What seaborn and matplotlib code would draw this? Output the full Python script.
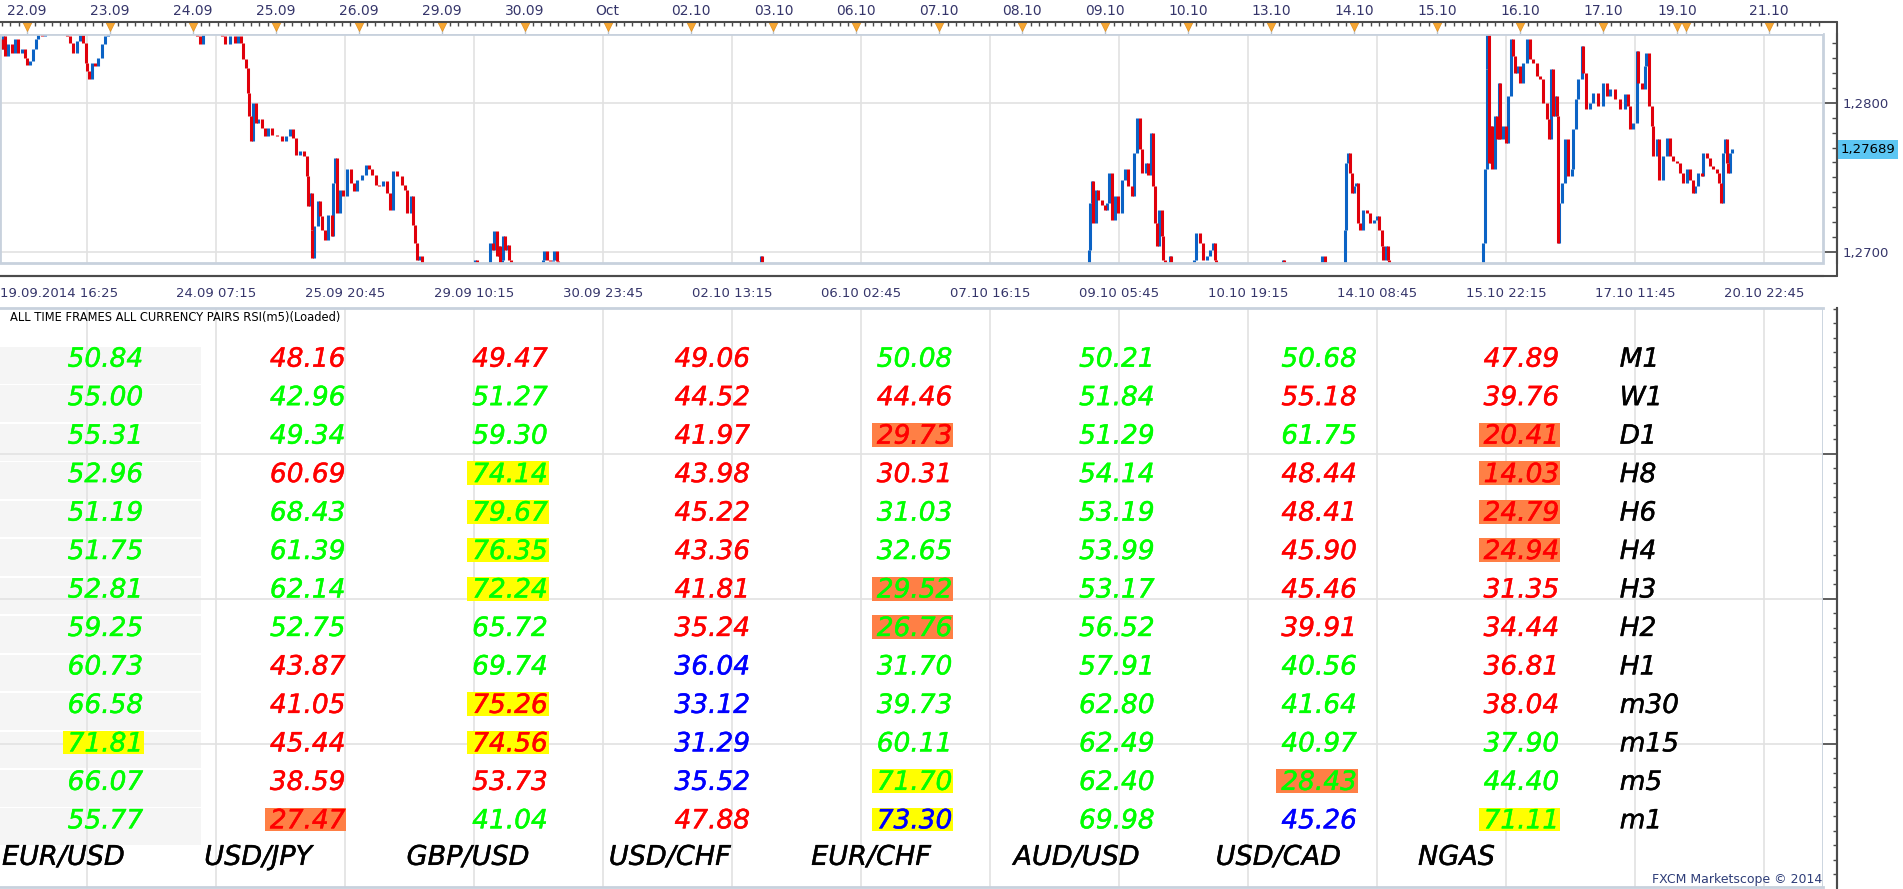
import numpy as np
import matplotlib
matplotlib.use("Agg")
import matplotlib.pyplot as plt
import matplotlib.transforms as mtransforms
import matplotlib.patheffects as pe
from matplotlib.patches import Rectangle
from matplotlib.lines import Line2D
from matplotlib.ticker import MultipleLocator, FixedLocator
import seaborn as sns

# ==========================================================
# Price data (EUR/USD, trading hours from 22.09 00:00)
# 1.2850 = above the visible range, 1.2685 = below it
# ==========================================================

price_hours = [
    -7.8, -7.3, -6.9, -6.4, -5.4, -4.4, -3.5, -2.5, -1.5, -0.6, 0.1, 0.9, 1.8, 2.5, 3.3, 4.3, 5.2,
    11.5, 12.4, 13.4, 14.4, 15.3, 16.3, 17.1, 17.4, 18.0, 18.7, 19.7, 20.6, 21.6, 22.6, 23.5,
    49.1, 50.1, 51.0, 56.3, 57.3, 58.7, 60.2, 61.1, 61.8, 62.6, 63.4, 63.9, 64.3, 64.7, 65.5,
    66.2, 66.9, 67.9, 68.9, 69.8, 70.8, 72.3, 73.7, 74.9, 76.1, 77.1, 77.8, 79.0, 80.2, 80.9,
    81.4, 81.9, 82.4, 82.6, 83.1, 84.1, 84.8, 85.4, 86.2, 87.2, 88.2, 88.6, 89.1, 89.8, 90.6,
    91.5, 92.7, 93.7, 94.6, 95.6, 96.8, 98.0, 99.0, 99.9, 100.9, 101.9, 103.1, 104.3, 105.0,
    106.0, 107.1, 108.4, 109.4, 110.0, 111.0, 111.8, 112.3, 112.8, 113.5, 114.2,
    129.6, 130.1, 133.5, 134.0, 134.8, 135.2, 135.9, 136.6, 136.9, 137.4, 137.8, 138.3, 139.0,
    139.6, 140.0, 149.2, 149.7, 150.4, 151.3, 152.3, 152.6, 153.3, 153.7, 212.3, 212.7,
    307.1, 307.4, 307.7, 308.1, 308.5, 309.2, 310.0, 311.0, 311.9, 312.6, 313.2, 313.9, 314.8,
    315.8, 316.8, 317.7, 318.7, 319.6, 320.3, 321.3, 322.0, 322.7, 323.7, 324.4, 325.1, 325.7,
    326.4, 326.9, 327.6, 328.3, 328.8, 329.3, 330.7, 331.0, 337.8, 338.4, 339.4, 340.4, 341.3,
    342.3, 343.1, 343.8, 344.0, 363.5, 363.7, 374.8, 375.6,
    380.9, 381.3, 381.7, 382.1, 382.8, 383.3, 384.0, 384.6, 385.0, 385.7, 386.7, 387.6, 388.6,
    389.8, 390.5, 391.2, 392.0, 392.4, 393.2, 393.7, 394.0,
    421.2, 421.4, 421.9, 422.4, 422.6, 423.0, 423.5, 424.0, 424.8, 425.4, 425.8, 426.2, 427.2,
    428.0, 428.6, 429.3, 430.1, 430.6, 431.2, 432.0, 433.0, 434.0, 434.9, 435.9, 436.8, 437.8,
    438.7, 439.7, 440.4, 440.9, 441.5, 442.1, 442.6, 443.0, 443.4, 444.1, 445.0, 446.0, 447.0,
    447.4, 448.1, 448.9, 449.9, 450.3, 451.1, 452.3, 453.2, 454.7, 456.1, 457.1, 458.1, 459.5,
    461.0, 462.4, 463.3, 463.8, 464.8, 465.8, 466.2, 467.2, 468.2, 468.6, 469.4, 470.1, 470.6,
    471.6, 472.3, 473.5, 474.5, 475.4, 476.4, 477.3, 478.3, 479.2, 480.2, 481.2, 482.0, 482.6,
    483.6, 484.6, 485.0, 486.0, 487.0, 487.9, 488.9, 489.7, 490.1, 490.8, 491.3, 491.8, 492.3,
    492.8, 493.3,
]

price_close = [
    1.28425, 1.28358, 1.28447, 1.28313, 1.28391, 1.28336, 1.28425, 1.28336, 1.28358, 1.28302,
    1.28251, 1.28280, 1.28358, 1.28425, 1.28459, 1.28447, 1.2850,
    1.28447, 1.28403, 1.28336, 1.28414, 1.28459, 1.28403, 1.28268, 1.28213, 1.28157, 1.28268,
    1.28246, 1.28302, 1.28391, 1.28447, 1.2850,
    1.28447, 1.28391, 1.2850, 1.28447, 1.28391, 1.28447, 1.28403, 1.28447, 1.28403, 1.28291,
    1.28235, 1.28067, 1.27911, 1.27743, 1.28000,
    1.27866, 1.27888, 1.27832, 1.27776, 1.27832, 1.27787, 1.27776, 1.27743, 1.27776, 1.27821,
    1.27765, 1.27653, 1.27676, 1.27642, 1.27508,
    1.27306, 1.27396, 1.27150, 1.26960, 1.27172, 1.27340, 1.27239, 1.27150, 1.27083, 1.27251,
    1.27105, 1.27463, 1.27631, 1.27262, 1.27418,
    1.27374, 1.27553, 1.27463, 1.27407, 1.27485, 1.27519, 1.27586, 1.27553, 1.27519, 1.27452,
    1.27441, 1.27474, 1.27396, 1.27284,
    1.27541, 1.27508, 1.27452, 1.27418, 1.27262, 1.27374, 1.27183, 1.27060, 1.26949, 1.26971,
    1.2685,
    1.26949, 1.2685, 1.2685, 1.27060, 1.27016, 1.27139, 1.26971, 1.27038, 1.2685, 1.26949,
    1.27105, 1.27016, 1.27049,
    1.26949, 1.2685, 1.26949, 1.27005, 1.26949, 1.26938, 1.26949, 1.27005, 1.26938, 1.2685,
    1.26971, 1.2685,
    1.2685, 1.27016, 1.27329, 1.27474, 1.27195, 1.27418, 1.27351, 1.27318, 1.27284, 1.27329,
    1.27530, 1.27217, 1.27374,
    1.27262, 1.27485, 1.27553, 1.27441, 1.27374, 1.27664, 1.27899, 1.27687, 1.27530, 1.27597,
    1.27519, 1.27799, 1.27441,
    1.27195, 1.27038, 1.27284, 1.27105, 1.26949, 1.2685, 1.26971, 1.2685, 1.26949, 1.27128,
    1.27060, 1.26949, 1.26971,
    1.27016, 1.27060, 1.26949, 1.2685, 1.26949, 1.2685, 1.26971, 1.2685,
    1.2685, 1.27150, 1.27597, 1.27664, 1.27530, 1.27396, 1.27441, 1.27463, 1.27195, 1.27150,
    1.27284, 1.27262, 1.27195,
    1.27217, 1.27239, 1.27150, 1.27038, 1.26949, 1.27038, 1.26949, 1.2685,
    1.2685, 1.27060, 1.27553, 1.28224, 1.28459, 1.27597, 1.27843, 1.27553, 1.27911, 1.27754,
    1.28134, 1.27754, 1.27843,
    1.27732, 1.28045, 1.28425, 1.28313, 1.28201, 1.28246, 1.28134, 1.28268, 1.28425, 1.28291,
    1.28268, 1.28179, 1.28157,
    1.28000, 1.27888, 1.27754, 1.28224, 1.27911, 1.28045, 1.27911, 1.27060, 1.27329, 1.27463,
    1.27754, 1.27508, 1.27553,
    1.27821, 1.28022, 1.28157, 1.28380, 1.28201, 1.27955, 1.28000, 1.28067, 1.27978, 1.28134,
    1.28045, 1.28089, 1.28022,
    1.27955, 1.28056, 1.27978, 1.27821, 1.27866, 1.28347, 1.28134, 1.28089, 1.28246, 1.28336,
    1.27978, 1.27843, 1.27642,
    1.27754, 1.27485, 1.27642, 1.27765, 1.27642, 1.27609, 1.27597, 1.27530, 1.27463, 1.27553,
    1.27485, 1.27396, 1.27441,
    1.27530, 1.27508, 1.27664, 1.27631, 1.27575, 1.27553, 1.27530, 1.27463, 1.27329, 1.27664,
    1.27754, 1.27597, 1.27530,
    1.27664, 1.27689,
]

last_price = 1.27689

# ==========================================================
# Axis labels
# ==========================================================

top_labels = ["22.09", "23.09", "24.09", "25.09", "26.09", "29.09", "30.09", "Oct", "02.10",
              "03.10", "06.10", "07.10", "08.10", "09.10", "10.10", "13.10", "14.10", "15.10",
              "16.10", "17.10", "19.10", "", "21.10"]
top_hours = [0, 24, 48, 72, 96, 120, 144, 168, 192, 216, 240, 264, 288, 312, 336, 360, 384,
             408, 432, 456, 477.4, 480, 504]

bottom_labels = ["19.09.2014 16:25", "24.09 07:15", "25.09 20:45", "29.09 10:15",
                 "30.09 23:45", "02.10 13:15", "06.10 02:45", "07.10 16:15", "09.10 05:45",
                 "10.10 19:15", "14.10 08:45", "15.10 22:15", "17.10 11:45", "20.10 22:45"]
bottom_hours = [17.4, 54.7, 92.0, 129.4, 166.7, 204.0, 241.4, 278.7, 316.0, 353.3, 390.7,
                428.0, 465.3, 502.7]

price_ticks = [1.27, 1.28]
price_tick_labels = ["1,2700", "1,2800"]

# ==========================================================
# RSI table
# ==========================================================

pairs = ["EUR/USD", "USD/JPY", "GBP/USD", "USD/CHF", "EUR/CHF", "AUD/USD", "USD/CAD", "NGAS"]
frames = ["M1", "W1", "D1", "H8", "H6", "H4", "H3", "H2", "H1", "m30", "m15", "m5", "m1"]

rsi_eurusd = [50.84, 55.00, 55.31, 52.96, 51.19, 51.75, 52.81, 59.25, 60.73, 66.58, 71.81, 66.07, 55.77]
rsi_usdjpy = [48.16, 42.96, 49.34, 60.69, 68.43, 61.39, 62.14, 52.75, 43.87, 41.05, 45.44, 38.59, 27.47]
rsi_gbpusd = [49.47, 51.27, 59.30, 74.14, 79.67, 76.35, 72.24, 65.72, 69.74, 75.26, 74.56, 53.73, 41.04]
rsi_usdchf = [49.06, 44.52, 41.97, 43.98, 45.22, 43.36, 41.81, 35.24, 36.04, 33.12, 31.29, 35.52, 47.88]
rsi_eurchf = [50.08, 44.46, 29.73, 30.31, 31.03, 32.65, 29.52, 26.76, 31.70, 39.73, 60.11, 71.70, 73.30]
rsi_audusd = [50.21, 51.84, 51.29, 54.14, 53.19, 53.99, 53.17, 56.52, 57.91, 62.80, 62.49, 62.40, 69.98]
rsi_usdcad = [50.68, 55.18, 61.75, 48.44, 48.41, 45.90, 45.46, 39.91, 40.56, 41.64, 40.97, 28.43, 45.26]
rsi_ngas = [47.89, 39.76, 20.41, 14.03, 24.79, 24.94, 31.35, 34.44, 36.81, 38.04, 37.90, 44.40, 71.11]

# text colour per cell: g = green, r = red, b = blue
col_eurusd = "ggggggggggggg"
col_usdjpy = "rggrggggrrrrr"
col_gbpusd = "rggggggggrrrg"
col_usdchf = "rrrrrrrrbbbbr"
col_eurchf = "grrrggggggggb"
col_audusd = "ggggggggggggg"
col_usdcad = "grgrrrrrggggb"
col_ngas = "rrrrrrrrrrggg"

rsi_values = [rsi_eurusd, rsi_usdjpy, rsi_gbpusd, rsi_usdchf,
              rsi_eurchf, rsi_audusd, rsi_usdcad, rsi_ngas]
rsi_colors = [col_eurusd, col_usdjpy, col_gbpusd, col_usdchf,
              col_eurchf, col_audusd, col_usdcad, col_ngas]

overbought = 70
oversold = 30

# ==========================================================
# Style
# ==========================================================

sns.set_theme(style="white")
plt.rcParams["font.family"] = ["DejaVu Sans"]

W, H = 1903, 889
PT = 0.72          # points per pixel at dpi 100
DARK = "#4b4b4b"
BORDER = "#c8d1dd"
GRID = "#e2e2e2"
LABEL = "#35356a"
text_color = {"g": "#00ff00", "r": "#ff0000", "b": "#0000ff"}

x_left, x_right = -7.81, 519.68

fig = plt.figure(figsize=(W / 100, H / 100), dpi=100)
fig.patch.set_facecolor("white")


def rect(x0, y0, x1, y1):
    return [x0 / W, 1 - y1 / H, (x1 - x0) / W, (y1 - y0) / H]


# ==========================================================
# Price panel
# ==========================================================

ax_p = fig.add_axes(rect(0, 34, 1823, 263))
ax_p.set_xlim(x_left, x_right)
ax_p.set_ylim(1.26926, 1.28461)
ax_p.set_facecolor("white")

hours = np.array(price_hours)
close = np.array(price_close)
prev = close[:-1]
cur = close[1:]
up = cur >= prev
ax_p.vlines(hours[1:][up], prev[up], cur[up], color="#0b63c5", lw=2.2, zorder=3)
ax_p.vlines(hours[1:][~up], cur[~up], prev[~up], color="#e0000b", lw=2.2, zorder=3)

ax_p.set_xticks(bottom_hours)
ax_p.set_xticklabels(bottom_labels)
ax_p.xaxis.set_minor_locator(FixedLocator(np.arange(bottom_hours[0] - 4 * 4.667, x_right, 4.667)))
ax_p.set_yticks(price_ticks)
ax_p.set_yticklabels(price_tick_labels)
ax_p.yaxis.set_minor_locator(MultipleLocator(0.001))
ax_p.yaxis.tick_right()

ax_p.grid(True, which="major", color=GRID, lw=1.2)
ax_p.set_axisbelow(True)

for s in ["left", "top"]:
    ax_p.spines[s].set_visible(False)
ax_p.spines["bottom"].set_position(("outward", 13 * PT))
ax_p.spines["right"].set_position(("outward", 14 * PT))
ax_p.spines["bottom"].set_color(DARK)
ax_p.spines["right"].set_color(DARK)
ax_p.spines["bottom"].set_linewidth(1.5)
ax_p.spines["right"].set_linewidth(1.5)

ax_p.tick_params(axis="x", which="major", direction="in", length=13 * PT, color=DARK,
                 labelsize=9.5, labelcolor=LABEL, pad=8)
ax_p.tick_params(axis="x", which="minor", direction="in", length=5 * PT, color=DARK)
ax_p.tick_params(axis="y", which="major", direction="in", length=14 * PT, color=DARK,
                 labelsize=9.5, labelcolor=LABEL, pad=4)
ax_p.tick_params(axis="y", which="minor", direction="in", length=5 * PT, color=DARK)

# keep the first date label inside the figure
first = ax_p.get_xticklabels()[0]
first.set_transform(first.get_transform() +
                    mtransforms.ScaledTranslation(-0.28, 0, fig.dpi_scale_trans))

ax_p.add_patch(Rectangle((0, 0), 1, 1, transform=ax_p.transAxes, fill=False,
                         edgecolor=BORDER, lw=2, clip_on=False, zorder=4))

blend = mtransforms.blended_transform_factory(ax_p.transAxes, ax_p.transData)
ax_p.text(1.0095, last_price, "1,27689", transform=blend, ha="left", va="center",
          fontsize=9.5, color="black",
          bbox=dict(boxstyle="square,pad=0.22", fc="#5cc6f3", ec="none"))

# ==========================================================
# Day bar on top
# ==========================================================

ax_b = fig.add_axes(rect(0, 22, 1823, 34))
ax_b.set_xlim(x_left, x_right)
ax_b.set_ylim(0, 1)
ax_b.set_yticks([])
for s in ["left", "right", "bottom", "top"]:
    ax_b.spines[s].set_visible(False)
ax_b.xaxis.tick_top()
ax_b.set_xticks(top_hours)
ax_b.set_xticklabels(top_labels)
ax_b.xaxis.set_minor_locator(MultipleLocator(2.4))
ax_b.tick_params(axis="x", which="major", direction="in", length=0,
                 labelsize=10, labelcolor=LABEL, pad=3)
ax_b.tick_params(axis="x", which="minor", direction="in", length=4 * PT, color=DARK)
ax_b.vlines(top_hours, 0, 0.5, color="#b9c3cf", lw=1)
ax_b.plot(top_hours, [0.68] * len(top_hours), "v", color="#f6a531", ms=7, mec="#e08e1c",
          mew=0.5, clip_on=False)

# ==========================================================
# RSI panel (grid) + table overlay
# ==========================================================

ax_g = fig.add_axes(rect(0, 308, 1823, 887))
ax_g.set_xlim(x_left, x_right)
ax_g.set_ylim(0.34, 100.17)
ax_g.set_xticks(bottom_hours)
ax_g.set_yticks([25, 50, 75])
ax_g.yaxis.set_minor_locator(MultipleLocator(2.5))
ax_g.yaxis.tick_right()
ax_g.set_yticklabels([])
ax_g.tick_params(axis="x", which="both", length=0, labelbottom=False)
ax_g.tick_params(axis="y", which="major", direction="in", length=14 * PT, color=DARK)
ax_g.tick_params(axis="y", which="minor", direction="in", length=4 * PT, color=DARK)
ax_g.grid(True, which="major", color=GRID, lw=1.2)
ax_g.set_axisbelow(True)
ax_g.spines["left"].set_visible(False)
ax_g.spines["top"].set_color(BORDER)
ax_g.spines["bottom"].set_color(BORDER)
ax_g.spines["top"].set_linewidth(2)
ax_g.spines["bottom"].set_linewidth(2)
ax_g.spines["right"].set_position(("outward", 14 * PT))
ax_g.spines["right"].set_color(DARK)
ax_g.spines["right"].set_linewidth(1.5)
ax_g.axvline(x_right, color=BORDER, lw=2)

ax_t = fig.add_axes(rect(0, 308, 1823, 887))
ax_t.set_facecolor("none")
ax_t.axis("off")
ax_t.set_xlim(-0.707, 8.305)
ax_t.set_ylim(13.756, -1.295)

# light grey first column
for j in range(len(frames)):
    ax_g.add_patch(Rectangle((-0.707, j - 0.285), 0.994, 0.955, transform=ax_t.transData,
                             facecolor="#f5f5f5", edgecolor="none", zorder=0.2))

for i, (vals, cols) in enumerate(zip(rsi_values, rsi_colors)):
    for j, (v, c) in enumerate(zip(vals, cols)):
        if v > overbought or v < oversold:
            fc = "#ffff00" if v > overbought else "#ff7f45"
            ax_t.add_patch(Rectangle((i - 0.398, j - 0.31), 0.403, 0.62,
                                     facecolor=fc, edgecolor="none", zorder=1))
        ax_t.text(i, j + 0.23, f"{v:.2f}", ha="right", va="baseline", fontsize=19,
                  style="italic", color=text_color[c], zorder=2,
                  path_effects=[pe.withStroke(linewidth=0.35, foreground=text_color[c])])

for i, name in enumerate(pairs):
    ax_t.text(i - 0.697, 12.98 + 0.2, name, ha="left", va="baseline", fontsize=19.5,
              style="italic", color="black",
              path_effects=[pe.withStroke(linewidth=0.3, foreground="black")])

for j, tf in enumerate(frames):
    ax_t.text(7.30, j + 0.23, tf, ha="left", va="baseline", fontsize=19,
              style="italic", color="black",
              path_effects=[pe.withStroke(linewidth=0.3, foreground="black")])

# ==========================================================
# Extra frame lines and captions
# ==========================================================

fig.add_artist(Line2D([1837 / W, 1837 / W], [1 - 22 / H, 1 - 276 / H], color=DARK, lw=1.5))
fig.add_artist(Line2D([1837 / W, 1837 / W], [1 - 308 / H, 0], color=DARK, lw=1.5))
fig.add_artist(Line2D([0, 1837 / W], [1 - 22 / H, 1 - 22 / H], color=DARK, lw=1.5))
fig.add_artist(Line2D([0, 1837 / W], [1 - 276 / H, 1 - 276 / H], color=DARK, lw=1.5))

fig.text(10 / W, 1 - 317 / H, "ALL TIME FRAMES ALL CURRENCY PAIRS RSI(m5)(Loaded)",
         ha="left", va="center", fontsize=8.3, color="black")
fig.text(1822 / W, 1 - 879 / H, "FXCM Marketscope \u00a9 2014", ha="right", va="center",
         fontsize=9, color="#2e3d78")

plt.savefig("out.png", dpi=100, facecolor="white")
